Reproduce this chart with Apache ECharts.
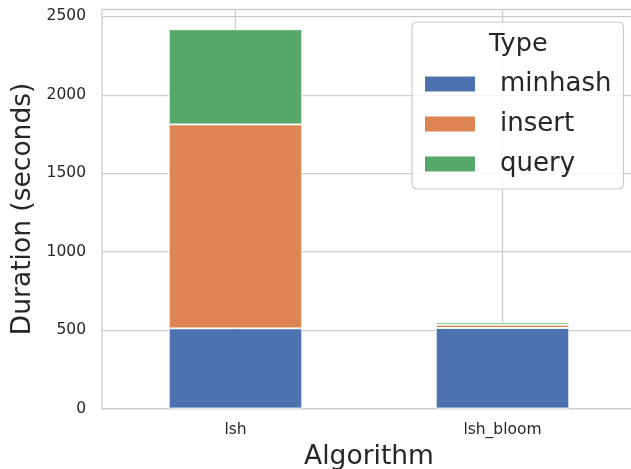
<!DOCTYPE html>
<html>
<head>
<meta charset="utf-8">
<script src="https://cdn.jsdelivr.net/npm/echarts@6/dist/echarts.min.js"></script>
<style>
html,body{margin:0;padding:0;background:#fff;}
#chart{width:631px;height:469px;}
</style>
</head>
<body>
<div id="chart"></div>
<script>
const categories = ['lsh', 'lsh_bloom'];
const minhash = [511, 513];
const insert = [1300, 21];
const query = [607, 15];
const seriesNames = ['minhash', 'insert', 'query'];
const yTicks = [0, 500, 1000, 1500, 2000, 2500];

const colors = ['#4c72b0', '#dd8452', '#55a868'];
const textColor = '#262626';
const font = 'DejaVu Sans';

const chart = echarts.init(document.getElementById('chart'), null, {renderer: 'canvas'});

const values = [minhash, insert, query];
const series = seriesNames.map((name, i) => ({
  name: name,
  type: 'bar',
  stack: 'total',
  data: values[i],
  barWidth: '50%',
  itemStyle: {color: colors[i], borderColor: '#ffffff', borderWidth: 0.9},
  z: 3
}));

chart.setOption({
  animation: false,
  backgroundColor: '#ffffff',
  color: colors,
  grid: {
    left: 102, top: 9.3, right: -5, bottom: 60.5,
    outerBoundsMode: 'none',
    containLabel: false,
    show: true, borderColor: '#cccccc', borderWidth: 1.25, backgroundColor: 'transparent'
  },
  xAxis: {
    type: 'category',
    data: categories,
    name: 'Algorithm',
    nameLocation: 'middle',
    nameGap: 35,
    nameMoveOverlap: false,
    nameTextStyle: {fontFamily: font, fontSize: 26.5, color: textColor},
    axisLine: {show: false},
    axisTick: {show: false},
    axisLabel: {fontFamily: font, fontSize: 15.5, color: textColor, margin: 13},
    splitLine: {show: true, alignWithLabel: true, lineStyle: {color: '#cccccc', width: 1.25}}
  },
  yAxis: {
    type: 'value',
    min: 0,
    max: 2545,
    interval: 500,
    name: 'Duration (seconds)',
    nameLocation: 'middle',
    nameGap: 65,
    nameMoveOverlap: false,
    nameTextStyle: {fontFamily: font, fontSize: 26.5, color: textColor},
    axisLine: {show: false},
    axisTick: {show: false},
    axisLabel: {
      fontFamily: font, fontSize: 15.5, color: textColor, margin: 16,
      formatter: v => (yTicks.indexOf(v) >= 0 ? String(v) : '')
    },
    splitLine: {show: true, lineStyle: {color: '#cccccc', width: 1.25}}
  },
  legend: {
    data: seriesNames,
    orient: 'vertical',
    left: 412,
    top: 22,
    padding: [42, 12, 5, 11],
    itemGap: 0,
    itemWidth: 52,
    itemHeight: 17,
    icon: 'rect',
    backgroundColor: 'rgba(255,255,255,0.8)',
    borderColor: '#cccccc',
    borderWidth: 1.2,
    borderRadius: 5,
    textStyle: {fontFamily: font, fontSize: 26, color: textColor, lineHeight: 40, padding: [0, 0, 0, 19]},
    selectedMode: false,
    z: 10
  },
  graphic: [{
    type: 'text',
    left: 489,
    top: 31,
    z: 100,
    style: {text: 'Type', fontFamily: font, fontSize: 25.5, fill: textColor}
  }],
  series: series
});
</script>
</body>
</html>
